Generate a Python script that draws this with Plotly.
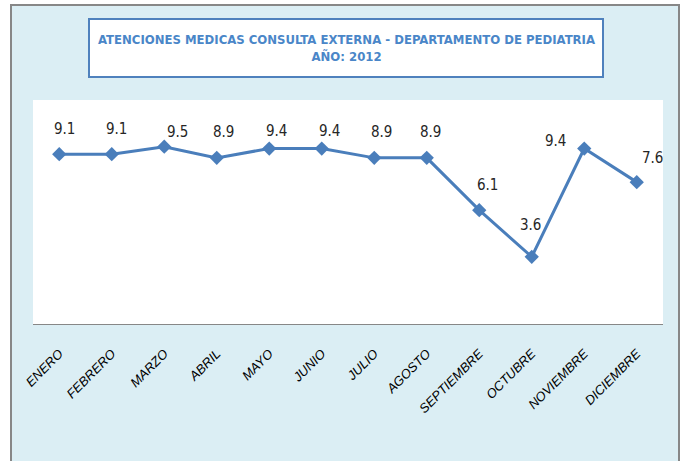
import plotly.graph_objects as go

months = ["ENERO", "FEBRERO", "MARZO", "ABRIL", "MAYO", "JUNIO", "JULIO",
          "AGOSTO", "SEPTIEMBRE", "OCTUBRE", "NOVIEMBRE", "DICIEMBRE"]
values = [9.1, 9.1, 9.5, 8.9, 9.4, 9.4, 8.9, 8.9, 6.1, 3.6, 9.4, 7.6]
# label offsets (pixels) as placed in the reference
label_dx = [5, 5, 13, 7, 7, 8, 7, 4, 8, -1, -29, 16]
label_dy = [25, 25, 15, 26, 18, 18, 26, 26, 25, 32, 8, 24]

title_lines = ["ATENCIONES MEDICAS CONSULTA EXTERNA - DEPARTAMENTO DE PEDIATRIA", "AÑO: 2012"]

FONT = "Liberation Sans Narrow, Arial Narrow, DejaVu Sans Condensed, sans-serif"
TICKFONT = "Liberation Sans, Arial, sans-serif"
LINE = "#4A7EBB"
BG = "#DBEEF4"

fig = go.Figure()
fig.add_trace(go.Scatter(
    x=months, y=values, mode="lines+markers",
    line=dict(color=LINE, width=3),
    marker=dict(symbol="diamond", size=11, color=LINE),
    hoverinfo="skip", showlegend=False,
))

for m, v, dx, dy in zip(months, values, label_dx, label_dy):
    fig.add_annotation(x=m, y=v, text=f"{v:.1f}", showarrow=False,
                       xshift=dx, yshift=dy,
                       font=dict(family=FONT, size=15, color="#262626"))

W, H = 689, 461
L, R, T, B = 33, 26, 100, 137
pw, ph = W - L - R, H - T - B


def px(x):
    return (x - L) / pw


def py(y):
    return (H - B - y) / ph


# outer frame
fig.add_shape(type="rect", xref="paper", yref="paper",
              x0=px(11), x1=px(679), y0=py(470), y1=py(5),
              line=dict(color="#878787", width=2), fillcolor="rgba(0,0,0,0)", layer="above")
# white strips outside frame
for x0, x1, y0, y1 in [(-5, 10, -5, 470), (680, 700, -5, 470), (-5, 700, -5, 4)]:
    fig.add_shape(type="rect", xref="paper", yref="paper",
                  x0=px(x0), x1=px(x1), y0=py(y1), y1=py(y0),
                  line=dict(width=0), fillcolor="white", layer="above")
# title box
fig.add_shape(type="rect", xref="paper", yref="paper",
              x0=px(89), x1=px(603), y0=py(77), y1=py(19),
              line=dict(color="#4F81BD", width=2), fillcolor="white", layer="above")
fig.add_annotation(xref="paper", yref="paper", x=px(346), y=py(48),
                   xanchor="center", yanchor="middle",
                   text="<b>" + title_lines[0] + "</b><br><b>" + title_lines[1] + "</b>",
                   showarrow=False, align="center",
                   font=dict(family=FONT, size=13, color="#4A86C8"))

fig.update_layout(
    width=W, height=H,
    margin=dict(l=L, r=R, t=T, b=B),
    paper_bgcolor=BG, plot_bgcolor="white",
    xaxis=dict(type="category", range=[-0.5, 11.5], showgrid=False,
               showline=True, linecolor="#878787", linewidth=1, ticks="",
               tickmode="array", tickvals=months,
               ticktext=[f"<i>{m}</i>" for m in months],
               tickangle=-45, ticklabelstandoff=16,
               tickfont=dict(family=TICKFONT, size=13, color="#000000")),
    yaxis=dict(range=[0, 12], showgrid=False, showticklabels=False,
               zeroline=False, showline=False, ticks=""),
    font=dict(family=FONT),
)

fig.write_html("out.html", config={"displayModeBar": False},
               post_script="document.body.style.margin='0px';")
